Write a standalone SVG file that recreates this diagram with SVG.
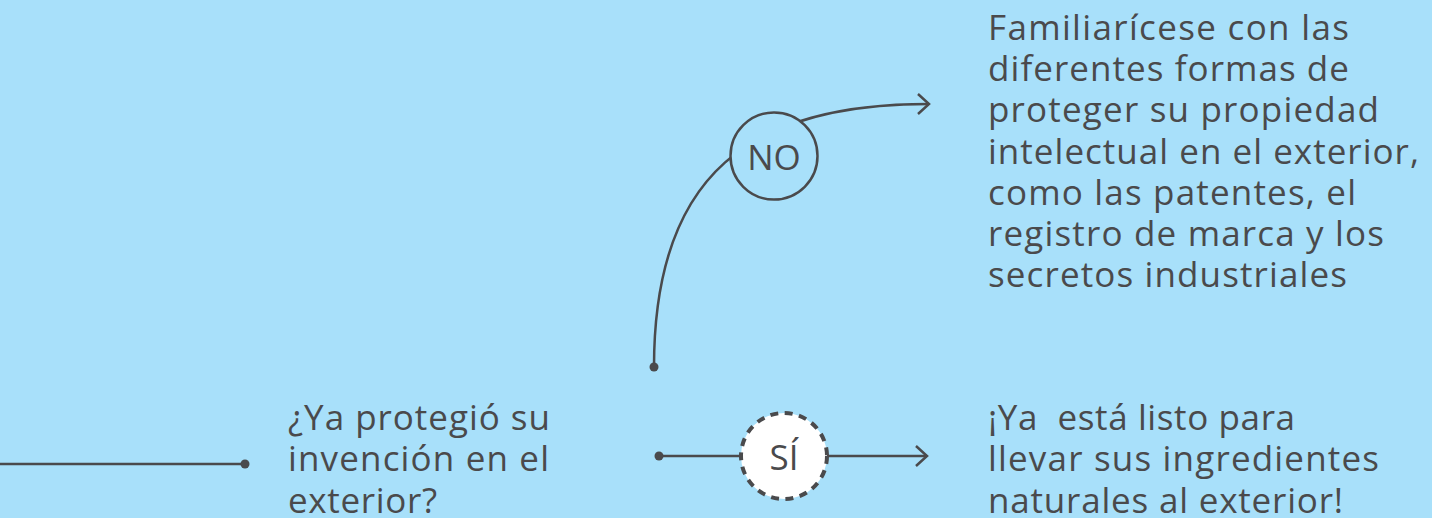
<svg xmlns="http://www.w3.org/2000/svg" width="1432" height="518" viewBox="0 0 1432 518">
<style>
text{font-family:"Open Sans","Noto Sans","Liberation Sans",sans-serif;font-size:35px;font-weight:500;fill:#4a4a4c;}
.ln{fill:none;stroke:#4a4a4c;stroke-width:2.5;}
.dot{fill:#4a4a4c;}
.pre{white-space:pre;}
</style>
<defs>
<marker id="arr" viewBox="0 0 14 24" refX="12" refY="12" markerWidth="14" markerHeight="24" markerUnits="userSpaceOnUse" orient="auto">
<path d="M1,2 L12,12 L1,22" fill="none" stroke="#4a4a4c" stroke-width="2.5"/>
</marker>
</defs>
<rect x="0" y="0" width="1432" height="518" fill="#a8e0fa"/>
<g id="connectors">
<line class="ln" x1="0" y1="464" x2="245" y2="464"/>
<circle class="dot" cx="245" cy="464" r="4.5"/>
<path class="ln" d="M654,367 C654,172 752,104 929,104" marker-end="url(#arr)"/>
<circle class="dot" cx="654" cy="367" r="4.5"/>
<line class="ln" x1="659" y1="456" x2="927" y2="456" marker-end="url(#arr)"/>
<circle class="dot" cx="659" cy="456" r="4.5"/>
</g>
<g id="node-no">
<circle cx="774" cy="156" r="43.5" fill="#a8e0fa" stroke="#4a4a4c" stroke-width="2.5"/>
<text x="774" y="170" text-anchor="middle">NO</text>
</g>
<g id="node-si">
<circle cx="784" cy="456" r="43" fill="#ffffff" stroke="#4a4a4c" stroke-width="4" stroke-dasharray="8 6.5"/>
<text x="784" y="470" text-anchor="middle">SÍ</text>
</g>
<g id="node-question">
<text x="288" y="430" textLength="262" lengthAdjust="spacing">¿Ya protegió su</text>
<text x="288" y="471" textLength="261" lengthAdjust="spacing">invención en el</text>
<text x="288" y="513" textLength="149" lengthAdjust="spacing">exterior?</text>
</g>
<g id="node-no-result">
<text x="988" y="40" textLength="361" lengthAdjust="spacing">Familiarícese con las</text>
<text x="988" y="81" textLength="361" lengthAdjust="spacing">diferentes formas de</text>
<text x="988" y="122" textLength="391" lengthAdjust="spacing">proteger su propiedad</text>
<text x="988" y="164" textLength="431" lengthAdjust="spacing">intelectual en el exterior,</text>
<text x="988" y="205" textLength="368" lengthAdjust="spacing">como las patentes, el</text>
<text x="988" y="246" textLength="396" lengthAdjust="spacing">registro de marca y los</text>
<text x="988" y="287" textLength="359" lengthAdjust="spacing">secretos industriales</text>
</g>
<g id="node-si-result">
<text class="pre" x="988" y="430" textLength="307" lengthAdjust="spacing">¡Ya  está listo para</text>
<text x="988" y="471" textLength="391" lengthAdjust="spacing">llevar sus ingredientes</text>
<text x="988" y="513" textLength="355" lengthAdjust="spacing">naturales al exterior!</text>
</g>
</svg>
